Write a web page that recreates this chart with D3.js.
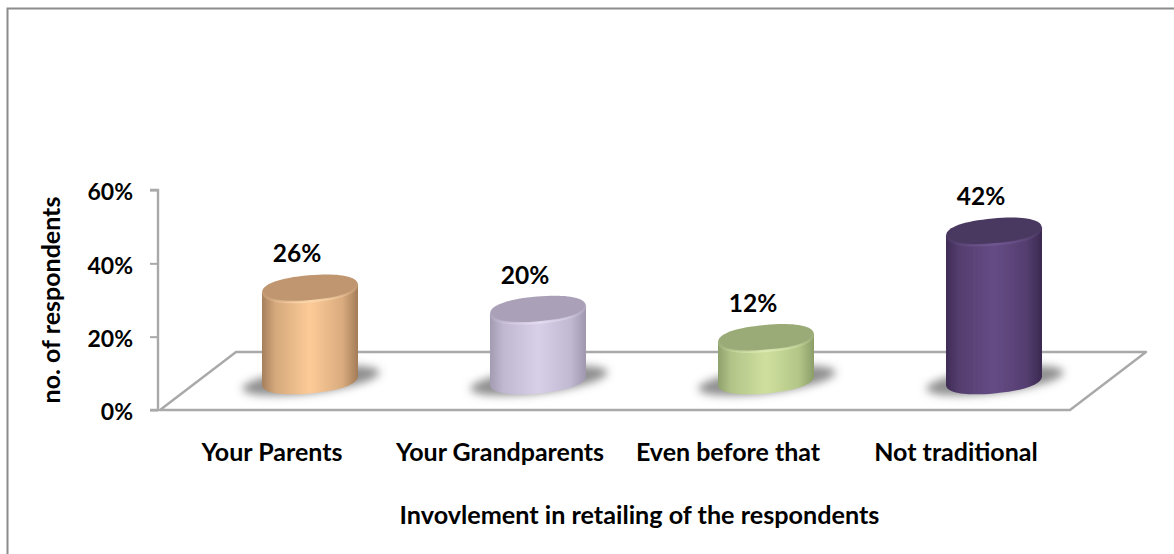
<!DOCTYPE html>
<html>
<head>
<meta charset="utf-8">
<script src="https://cdn.jsdelivr.net/npm/d3@7"></script>
<style>
  html, body { margin: 0; padding: 0; background: #fff; }
  svg { display: block; }
  text { font-family: Lato, "Open Sans", sans-serif; font-weight: 700; fill: #000; }
</style>
</head>
<body>
<svg id="chart" width="1174" height="554"></svg>
<script>
// Retailing involvement survey
const categories = ["Your Parents", "Your Grandparents", "Even before that", "Not traditional"];
const shares = [26, 20, 12, 42];
const axisTicks = [0, 20, 40, 60];
const bodyShades = [
  ["#a57f5c", "#fdcb97", "#a27c58"],
  ["#a39bb2", "#d8d0e8", "#9f97ae"],
  ["#8fa26c", "#cfe09e", "#8b9e68"],
  ["#3f2c55", "#654c85", "#3b2950"]
];
const capShades = ["#c09670", "#aaa1b9", "#9bab78", "#4a3760"];
const rimShades = ["#fcd7ac", "#e3dcf0", "#dbe9b2", "#6f5790"];
const xTitle = "Invovlement in retailing of the respondents";
const yTitle = "no. of respondents";

const svg = d3.select("#chart");
const W = 1174, H = 554;
const gridGrey = "#a9a9a9";

// Front axis scales
const x = d3.scaleBand().domain(categories).range([158, 1070]);
const y = d3.scaleLinear().domain([0, 60]).range([410, 190]);
// Column heights on the floor plane, which sits behind the front axis
const floorDx = 38;
const rise = d3.scaleLinear().domain([0, 60]).range([380.5, 167.5]);

const rx = 48, ry = 13, tilt = -5, roundness = 0.62;

const defs = svg.append("defs");
const soft = defs.append("filter").attr("id", "soft")
  .attr("x", "-10%").attr("y", "-10%").attr("width", "120%").attr("height", "120%");
soft.append("feGaussianBlur").attr("stdDeviation", 0.7);
const shadowBlur = defs.append("filter").attr("id", "shadowBlur")
  .attr("x", "-30%").attr("y", "-60%").attr("width", "160%").attr("height", "220%");
shadowBlur.append("feGaussianBlur").attr("stdDeviation", 4);

categories.forEach((c, i) => {
  const g = defs.append("linearGradient").attr("id", "body" + i)
    .attr("x1", 0).attr("x2", 1).attr("y1", 0).attr("y2", 0);
  g.append("stop").attr("offset", "0%").attr("stop-color", bodyShades[i][0]);
  g.append("stop").attr("offset", "14%").attr("stop-color", d3.interpolateRgb(bodyShades[i][0], bodyShades[i][1])(0.55));
  g.append("stop").attr("offset", "50%").attr("stop-color", bodyShades[i][1]);
  g.append("stop").attr("offset", "84%").attr("stop-color", d3.interpolateRgb(bodyShades[i][2], bodyShades[i][1])(0.6));
  g.append("stop").attr("offset", "100%").attr("stop-color", bodyShades[i][2]);
  const r = defs.append("linearGradient").attr("id", "rim" + i)
    .attr("x1", 0).attr("x2", 1).attr("y1", 0).attr("y2", 0);
  r.append("stop").attr("offset", "0%").attr("stop-color", rimShades[i]).attr("stop-opacity", 0.1);
  r.append("stop").attr("offset", "50%").attr("stop-color", rimShades[i]).attr("stop-opacity", 1);
  r.append("stop").attr("offset", "100%").attr("stop-color", rimShades[i]).attr("stop-opacity", 0.1);
});

// Half outline of a slightly squared cylinder end, from left rim to right rim
function frontArc(p, cy) {
  p.bezierCurveTo(-rx, cy + ry * roundness, -rx * roundness, cy + ry, 0, cy + ry);
  p.bezierCurveTo(rx * roundness, cy + ry, rx, cy + ry * roundness, rx, cy);
}
function backArc(p, cy) {
  p.bezierCurveTo(rx, cy - ry * roundness, rx * roundness, cy - ry, 0, cy - ry);
  p.bezierCurveTo(-rx * roundness, cy - ry, -rx, cy - ry * roundness, -rx, cy);
}

// Outer frame, open on the right and bottom
svg.append("path")
  .attr("d", d3.line()([[7.5, H], [7.5, 8.5], [W, 8.5]]))
  .attr("fill", "none").attr("stroke", "#8c8c8c").attr("stroke-width", 2);

// Floor outline
const depthX = 76, depthY = 58;
const floor = [
  [x.range()[0] + 2, y(0)],
  [x.range()[0] + 2 + depthX, y(0) - depthY],
  [x.range()[1] + depthX, y(0) - depthY],
  [x.range()[1], y(0)]
];
svg.append("path")
  .attr("d", d3.line()(floor) + "Z")
  .attr("fill", "#fff").attr("stroke", gridGrey).attr("stroke-width", 2.4).attr("stroke-linejoin", "round");

// Vertical value axis
const axis = d3.axisLeft(y).tickValues(axisTicks).tickFormat(d => d + "%").tickSize(8).tickPadding(17);
const axisG = svg.append("g").attr("transform", "translate(158,0)").call(axis);
axisG.selectAll("path.domain").attr("stroke", gridGrey).attr("stroke-width", 2.4)
  .attr("d", d3.line()([[-8, y(60)], [0, y(60)], [0, y(0)], [-8, y(0)]]));
axisG.selectAll(".tick line").attr("stroke", gridGrey).attr("stroke-width", 2);
axisG.selectAll(".tick text").attr("dy", "0.42em")
  .style("font-size", "23px").style("font-family", "Lato").style("font-weight", 700).attr("fill", "#000");

// Columns
const columns = svg.append("g").selectAll("g").data(categories).join("g")
  .attr("transform", d => `translate(${x(d) + x.bandwidth() / 2 + floorDx},0)`);

columns.append("ellipse").attr("cx", 1).attr("cy", 380.5).attr("rx", rx + 21).attr("ry", 12.5)
  .attr("fill", "#6a6a6a").attr("fill-opacity", 0.75).attr("filter", "url(#shadowBlur)")
  .attr("transform", `rotate(-7 1 380.5)`);

columns.each(function (d, i) {
  const g = d3.select(this);
  const topY = rise(shares[i]), baseY = rise(0);
  const tube = g.append("g").attr("filter", "url(#soft)");

  const side = d3.path();
  side.moveTo(-rx, topY);
  side.lineTo(-rx, baseY);
  frontArc(side, baseY);
  side.lineTo(rx, topY);
  side.closePath();
  // The side is drawn level and sheared so its walls stay upright
  const shear = Math.tan(tilt * Math.PI / 180);
  tube.append("path").attr("d", side.toString())
    .attr("transform", `matrix(1,${shear},0,1,0,0)`)
    .attr("fill", `url(#body${i})`);

  const cap = d3.path();
  cap.moveTo(-rx, 0);
  frontArc(cap, 0);
  backArc(cap, 0);
  cap.closePath();
  tube.append("path").attr("d", cap.toString())
    .attr("transform", `translate(0,${topY}) rotate(${tilt})`)
    .attr("fill", capShades[i]);

  // Bright lip along the front of the cap
  const lip = d3.path();
  lip.moveTo(-rx, 0);
  frontArc(lip, 0);
  tube.append("path").attr("d", lip.toString())
    .attr("transform", `translate(0,${topY}) rotate(${tilt})`)
    .attr("fill", "none").attr("stroke", `url(#rim${i})`).attr("stroke-width", 2.5);
});

// Value labels above each column
svg.append("g").selectAll("text").data(categories).join("text")
  .attr("x", d => x(d) + x.bandwidth() / 2 + floorDx - 13)
  .attr("y", (d, i) => rise(shares[i]) - 26)
  .attr("text-anchor", "middle").style("font-size", "24.5px")
  .text((d, i) => shares[i] + "%");

// Category labels
svg.append("g").selectAll("text").data(categories).join("text")
  .attr("x", d => x(d) + x.bandwidth() / 2).attr("y", 461)
  .attr("text-anchor", "middle").style("font-size", "25px").text(d => d);

// Axis titles
svg.append("text").attr("x", 639.5).attr("y", 524).attr("text-anchor", "middle")
  .style("font-size", "25.2px").text(xTitle);
svg.append("text").attr("transform", "translate(60,300) rotate(-90)").attr("text-anchor", "middle")
  .style("font-size", "25px").text(yTitle);
</script>
</body>
</html>
